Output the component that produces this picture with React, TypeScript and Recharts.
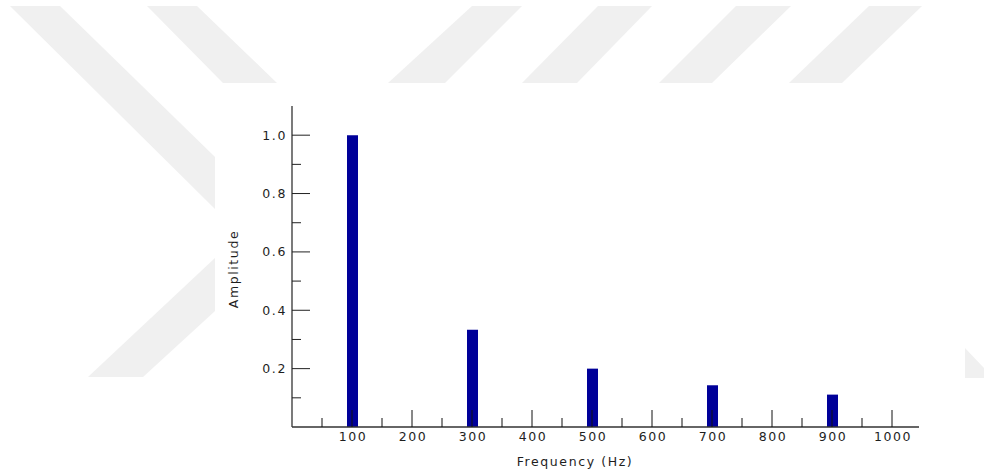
import { BarChart, Bar, XAxis, YAxis, Label } from "recharts";

// harmonic spectrum
const frequencies = [100, 300, 500, 700, 900];
const amplitudes = [1.0, 0.333, 0.2, 0.143, 0.111];

const freqTicks = [50, 100, 150, 200, 250, 300, 350, 400, 450, 500, 550, 600, 650, 700, 750, 800, 850, 900, 950, 1000];
const ampTicks = [0.1, 0.2, 0.3, 0.4, 0.5, 0.6, 0.7, 0.8, 0.9, 1.0];

const data = frequencies.map((f, i) => ({ freq: f, amp: amplitudes[i] }));

const FONT = "'DejaVu Sans', Verdana, sans-serif";
const TEXT = "#1e1e1e";

// faint watermark stripes behind the chart
const stripes = [
  "10,6 60,6 215,157 215,209",
  "147,6 197,6 277,83 223,83",
  "472,6 522,6 445,83 388,83",
  "598,6 652,6 577,83 522,83",
  "736,6 791,6 712,83 659,83",
  "869,6 922,6 842,83 789,83",
  "88,377 143,377 215,311 215,258",
  "965,348 984,368 984,378 965,378",
];

function FreqTick(props: any) {
  const { x, y, payload } = props;
  const major = payload.value % 100 === 0;
  return (
    <g>
      <line x1={x} x2={x} y1={y} y2={y - (major ? 17 : 9)} stroke="#111" strokeWidth={1} />
      {major && (
        <text x={x + 1} y={y + 14} textAnchor="middle" fontFamily={FONT} fontSize={12.5} letterSpacing={1.6} fill={TEXT}>
          {payload.value}
        </text>
      )}
    </g>
  );
}

function AmpTick(props: any) {
  const { x, y, payload } = props;
  const major = Math.round(payload.value * 10) % 2 === 0;
  return (
    <g>
      <line x1={x} x2={x + (major ? 18 : 9)} y1={y} y2={y} stroke="#222" strokeWidth={1} />
      {major && (
        <text x={x - 5} y={y + 4.5} textAnchor="end" fontFamily={FONT} fontSize={12.5} letterSpacing={1.6} fill={TEXT}>
          {payload.value.toFixed(1)}
        </text>
      )}
    </g>
  );
}

export default function App() {
  return (
    <div style={{ position: "absolute", left: 0, top: 0, width: 984, height: 475, background: "#fff" }}>
      <svg width={984} height={475} style={{ position: "absolute", left: 0, top: 0 }}>
        {stripes.map((p, i) => (
          <polygon key={i} points={p} fill="#f0f0f0" />
        ))}
        <rect x={215} y={83} width={750} height={392} fill="#fff" />
      </svg>
      <div style={{ position: "absolute", left: 0, top: 0 }}>
        <BarChart width={984} height={475} data={data} margin={{ top: 106, right: 65, bottom: 0, left: 0 }}>
          <YAxis
            type="number"
            domain={[0, 1.1]}
            ticks={ampTicks}
            interval={0}
            width={292}
            tickSize={0}
            tickMargin={0}
            tickLine={false}
            axisLine={{ stroke: "#333", strokeWidth: 1.3 }}
            tick={(p: any) => <AmpTick {...p} />}
          >
            <Label
              content={() => (
                <text x={238} y={269} transform="rotate(-90, 238, 269)" textAnchor="middle" fontFamily={FONT} fontSize={12.5} letterSpacing={1.6} fill={TEXT}>
                  Amplitude
                </text>
              )}
            />
          </YAxis>
          <Bar dataKey="amp" fill="#000099" barSize={11} isAnimationActive={false} />
          <XAxis
            dataKey="freq"
            type="number"
            domain={[0, 1045]}
            allowDataOverflow
            ticks={freqTicks}
            interval={0}
            height={48}
            tickSize={0}
            tickMargin={0}
            tickLine={false}
            axisLine={{ stroke: "#333", strokeWidth: 1.3 }}
            tick={(p: any) => <FreqTick {...p} />}
          >
            <Label
              content={() => (
                <text x={575} y={466} textAnchor="middle" fontFamily={FONT} fontSize={12.5} letterSpacing={1.6} fill={TEXT}>
                  Frequency (Hz)
                </text>
              )}
            />
          </XAxis>
        </BarChart>
      </div>
    </div>
  );
}
